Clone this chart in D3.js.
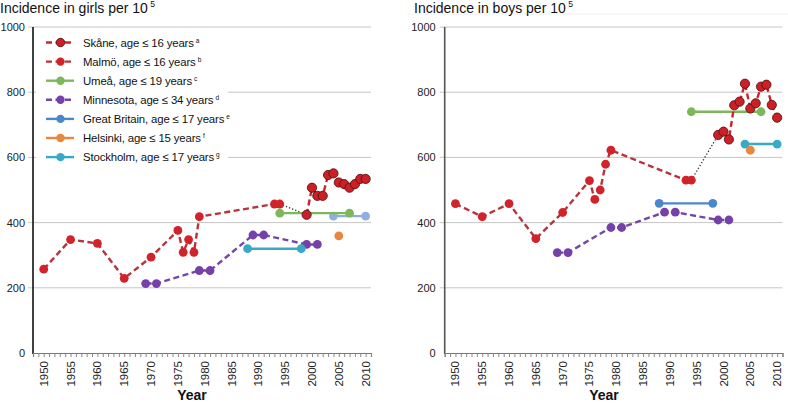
<!DOCTYPE html>
<html><head><meta charset="utf-8">
<script src="https://cdn.jsdelivr.net/npm/d3@7"></script>
<style>
body{margin:0;background:#fff;}
svg{display:block;font-family:"Liberation Sans",Arial,sans-serif;}
</style></head>
<body><svg id="c" width="788" height="403"></svg>
<script>
// ---------- DATA ----------
const yTicks = [0, 200, 400, 600, 800, 1000];
const xTickYears = [1950,1955,1960,1965,1970,1975,1980,1985,1990,1995,2000,2005,2010];

// Girls
const girlsMalmoYears   = [1950,1955,1960,1965,1970,1975,1976,1977,1978,1979,1993,1994];
const girlsMalmoValues  = [257,348,336,229,294,376,309,348,309,418,457,457];
const girlsSkaneYears   = [1999,2000,2001,2002,2003,2004,2005,2006,2007,2008,2009,2010];
const girlsSkaneValues  = [424,507,482,482,546,551,523,518,507,518,534,534];
const girlsUmeaYears    = [1994,2007];
const girlsUmeaValues   = [429,429];
const girlsMinnYears    = [1969,1971,1979,1981,1989,1991,1999,2001];
const girlsMinnValues   = [213,213,253,253,362,362,333,333];
const girlsStockYears   = [1988,1998];
const girlsStockValues  = [320,320];
const girlsStock2Years  = [2004,2010];
const girlsStock2Values = [420,420];
const girlsHelsYears    = [2005];
const girlsHelsValues   = [359];

// Boys
const boysMalmoYears    = [1950,1955,1960,1965,1970,1975,1976,1977,1978,1979,1993,1994];
const boysMalmoValues   = [458,418,458,351,431,529,471,500,579,622,530,530];
const boysSkaneYears    = [1999,2000,2001,2002,2003,2004,2005,2006,2007,2008,2009,2010];
const boysSkaneValues   = [669,679,655,760,771,826,750,766,817,823,761,722];
const boysUmeaYears     = [1994,2007];
const boysUmeaValues    = [740,740];
const boysMinnYears     = [1969,1971,1979,1981,1989,1991,1999,2001];
const boysMinnValues    = [308,308,385,385,432,432,408,408];
const boysGBYears       = [1988,1998];
const boysGBValues      = [459,459];
const boysStockYears    = [2004,2010];
const boysStockValues   = [641,641];
const boysHelsYears     = [2005];
const boysHelsValues    = [622];

const legendLabels = ["Skåne, age ≤ 16 years","Malmö, age ≤ 16 years","Umeå, age ≤ 19 years",
  "Minnesota, age ≤ 34 years","Great Britain, age ≤ 17 years","Helsinki, age ≤ 15 years","Stockholm, age ≤ 17 years"];
const legendSups = ["a","b","c","d","e","f","g"];

// ---------- STYLES ----------
const ST = {
  skane:  {line:"#c8262c", fill:"#cc1f26", stroke:"#5a1414", dash:"6,3.5"},
  malmo:  {line:"#b8343d", fill:"#d0232a", stroke:null, dash:"6,3.5"},
  umea:   {line:"#7cb85a", fill:"#7cb85a", stroke:null, dash:null},
  minn:   {line:"#7446a8", fill:"#7540a8", stroke:null, dash:"6,3.5"},
  gb:     {line:"#4a88cc", fill:"#4a88cc", stroke:null, dash:null},
  hels:   {line:"#e8873e", fill:"#e8873e", stroke:null, dash:null},
  stock:  {line:"#38aac6", fill:"#38aac6", stroke:null, dash:null},
  stock2: {line:"#8fb0dc", fill:"#8fb0dc", stroke:null, dash:null}
};
const legendKeys = ["skane","malmo","umea","minn","gb","hels","stock"];

const svg = d3.select("#c");
const zip = (ys, vs) => ys.map((y,i)=>({x:y, v:vs[i]}));

function drawPanel(p) {
  const x = d3.scaleLinear().domain([1948, 2011]).range([p.x0, p.x1]);
  const y = d3.scaleLinear().domain([0, 1000]).range([353, 27]);
  const g = svg.append("g");

  // title
  const t = g.append("text").attr("x", p.titleX).attr("y", 13)
    .attr("font-size", 14).attr("fill", "#111").text(p.title);
  t.append("tspan").attr("dy", -6).attr("font-size", 8.5).text(" 5");

  // grid
  g.selectAll(".grid").data(yTicks.filter(d=>d>0)).join("line")
    .attr("x1", p.x0 - 5).attr("x2", p.x1).attr("y1", d=>y(d)).attr("y2", d=>y(d))
    .attr("stroke", "#c6c6c6").attr("stroke-width", 1);

  // y axis
  const ya = g.append("g").attr("transform", `translate(${p.x0},0)`)
    .call(d3.axisLeft(y).tickValues(yTicks).tickFormat(d3.format("d")).tickSize(0).tickPadding(p.tickPad));
  ya.select(".domain").remove();
  ya.selectAll("text").attr("font-size", 11).attr("fill", "#222")
    .attr("font-family", "'Liberation Sans',Arial,sans-serif");
  g.append("line").attr("x1", p.x0).attr("x2", p.x0).attr("y1", 27).attr("y2", 354)
    .attr("stroke", p.axisColor).attr("stroke-width", 1.6);

  // x axis
  const xa = g.append("g").attr("transform", `translate(0,353)`)
    .call(d3.axisBottom(x).tickValues(d3.range(1948, 2012)).tickSize(4).tickFormat(""));
  xa.select(".domain").attr("stroke", "#777").attr("stroke-width", 1.2);
  xa.selectAll(".tick line").attr("stroke", "#888");
  g.selectAll(".xl").data(xTickYears).join("text")
    .attr("transform", d=>`translate(${x(d)+4},361) rotate(-90)`)
    .attr("text-anchor", "end").attr("font-size", 11.5).attr("fill", "#222").text(d=>d);
  g.append("text").attr("x", p.yearX).attr("y", 400).attr("text-anchor", "middle")
    .attr("font-size", 14).attr("font-weight", "bold").attr("fill", "#111").text("Year");

  const line = d3.line().x(d=>x(d.x)).y(d=>y(d.v));

  // dotted connector Malmö -> Skåne
  const m = p.series.find(s=>s.key==="malmo").data, s = p.series.find(s=>s.key==="skane").data;
  g.append("path").attr("d", line([m[m.length-1], s[0]])).attr("fill","none")
    .attr("stroke", "#333").attr("stroke-width", 1.3).attr("stroke-dasharray", "1.3,2");

  p.series.forEach(se => {
    const st = ST[se.key];
    if (se.data.length > 1) {
      g.append("path").attr("d", line(se.data)).attr("fill", "none")
        .attr("stroke", st.line).attr("stroke-width", 2.4)
        .attr("stroke-dasharray", st.dash);
    }
    g.selectAll(null).data(se.data).join("circle")
      .attr("cx", d=>x(d.x)).attr("cy", d=>y(d.v)).attr("r", st.stroke ? 4.6 : 4.4)
      .attr("fill", st.fill).attr("stroke", st.stroke || "none").attr("stroke-width", 0.9);
  });
}

drawPanel({
  x0: 33, x1: 371, titleX: 0, title: "Incidence in girls per 10", tickPad: 8,
  axisColor: "#111", yearX: 192,
  series: [
    {key:"stock2", data: zip(girlsStock2Years, girlsStock2Values)},
    {key:"umea",   data: zip(girlsUmeaYears, girlsUmeaValues)},
    {key:"minn",   data: zip(girlsMinnYears, girlsMinnValues)},
    {key:"stock",  data: zip(girlsStockYears, girlsStockValues)},
    {key:"hels",   data: zip(girlsHelsYears, girlsHelsValues)},
    {key:"malmo",  data: zip(girlsMalmoYears, girlsMalmoValues)},
    {key:"skane",  data: zip(girlsSkaneYears, girlsSkaneValues)}
  ]
});

svg.append("line").attr("x1", 408).attr("x2", 788).attr("y1", 14).attr("y2", 14)
  .attr("stroke", "#f0f0f0");

drawPanel({
  x0: 444.7, x1: 782.5, titleX: 414, title: "Incidence in boys per 10", tickPad: 9,
  axisColor: "#555", yearX: 604,
  series: [
    {key:"gb",     data: zip(boysGBYears, boysGBValues)},
    {key:"minn",   data: zip(boysMinnYears, boysMinnValues)},
    {key:"umea",   data: zip(boysUmeaYears, boysUmeaValues)},
    {key:"stock",  data: zip(boysStockYears, boysStockValues)},
    {key:"hels",   data: zip(boysHelsYears, boysHelsValues)},
    {key:"malmo",  data: zip(boysMalmoYears, boysMalmoValues)},
    {key:"skane",  data: zip(boysSkaneYears, boysSkaneValues)}
  ]
});

// ---------- LEGEND ----------
const lg = svg.append("g");
lg.append("rect").attr("x", 36).attr("y", 31).attr("width", 192).attr("height", 135).attr("fill", "#fff");
legendKeys.forEach((k, i) => {
  const st = ST[k], yy = 42.5 + i * 19.1;
  lg.append("line").attr("x1", 46).attr("x2", 74).attr("y1", yy).attr("y2", yy)
    .attr("stroke", st.line).attr("stroke-width", 2.4).attr("stroke-dasharray", st.dash);
  lg.append("circle").attr("cx", 60.5).attr("cy", yy).attr("r", 4.2)
    .attr("fill", st.fill).attr("stroke", st.stroke || "none").attr("stroke-width", 0.9);
  const t = lg.append("text").attr("x", 83).attr("y", yy + 4.2).attr("font-size", 11.4)
    .attr("letter-spacing", -0.15).attr("fill", "#111").text(legendLabels[i]);
  t.append("tspan").attr("dy", -4).attr("dx", 2).attr("font-size", 6.5).text(legendSups[i]);
});
</script></body></html>
